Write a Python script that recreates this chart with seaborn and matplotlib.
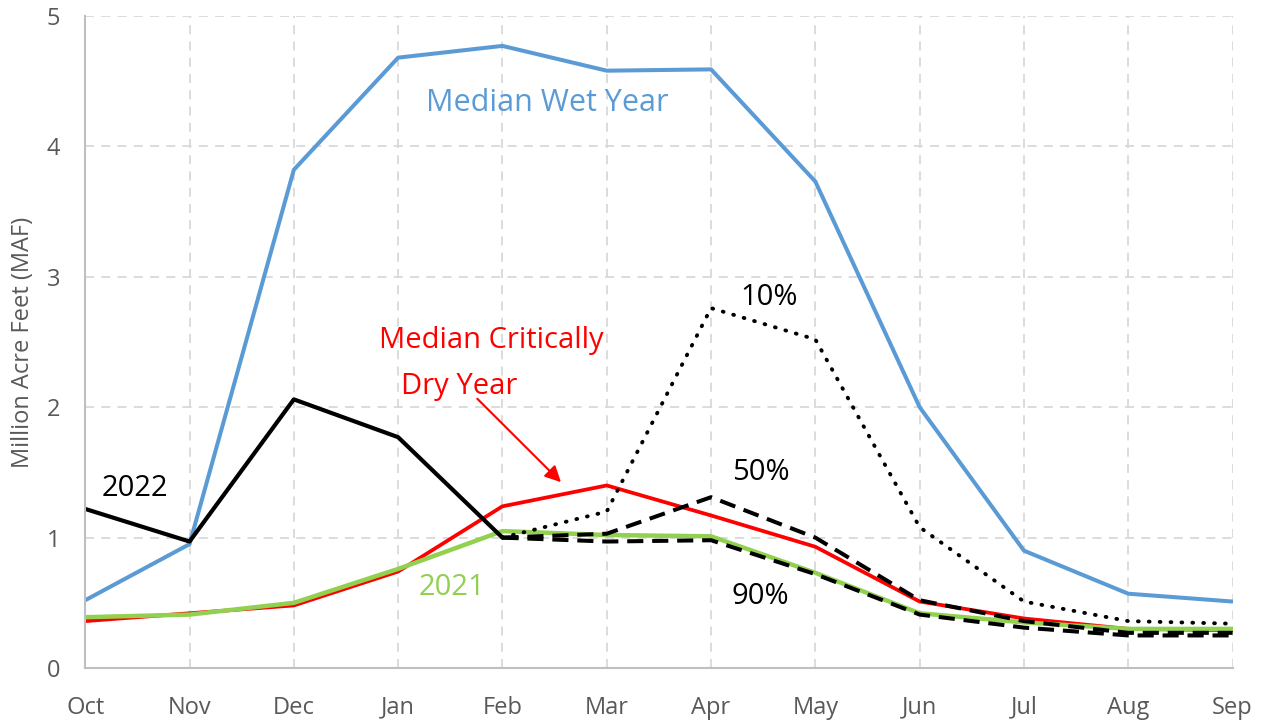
import numpy as np
import pandas as pd
import seaborn as sns
import matplotlib.pyplot as plt

# Data (million acre feet)
months = ["Oct", "Nov", "Dec", "Jan", "Feb", "Mar", "Apr", "May", "Jun", "Jul", "Aug", "Sep"]
wet_year = [0.52, 0.95, 3.82, 4.68, 4.77, 4.58, 4.59, 3.73, 2.00, 0.90, 0.57, 0.51]
dry_year = [0.36, 0.42, 0.48, 0.74, 1.24, 1.40, 1.17, 0.93, 0.51, 0.38, 0.30, 0.29]
wy_2021 = [0.39, 0.41, 0.50, 0.76, 1.05, 1.02, 1.01, 0.73, 0.42, 0.35, 0.30, 0.30]
wy_2022 = [1.22, 0.97, 2.06, 1.77, 1.00]
p10 = [1.00, 1.20, 2.76, 2.52, 1.08, 0.51, 0.36, 0.34]
p50 = [1.00, 1.03, 1.31, 1.00, 0.52, 0.36, 0.27, 0.27]
p90 = [1.00, 0.97, 0.98, 0.72, 0.41, 0.31, 0.25, 0.25]

sns.set_style("white")
plt.rcParams['font.family'] = ['Open Sans', 'DejaVu Sans']

fig = plt.figure(figsize=(12.72, 7.23), dpi=100)
ax = fig.add_axes([0.067, 0.076, 0.902, 0.902])

x_all = np.arange(len(months))
x_fc = np.arange(4, len(months))  # forecasts start in Feb

sns.lineplot(x=x_all, y=wet_year, ax=ax, color="#5b9bd5", lw=2.9)
sns.lineplot(x=x_all, y=dry_year, ax=ax, color="#ff0000", lw=2.7)
sns.lineplot(x=x_all, y=wy_2021, ax=ax, color="#92d050", lw=3.2)
sns.lineplot(x=x_fc, y=p10, ax=ax, color="black", lw=2.8,
             linestyle=(0, (0.2, 2.6)), dash_capstyle="round")
sns.lineplot(x=x_fc, y=p50, ax=ax, color="black", lw=2.9, linestyle=(0, (4, 2.2)))
sns.lineplot(x=x_fc, y=p90, ax=ax, color="black", lw=2.9, linestyle=(0, (4, 2.2)))
sns.lineplot(x=np.arange(len(wy_2022)), y=wy_2022, ax=ax, color="black", lw=3.0)

ax.set_xlim(0, len(months) - 1)
ax.set_ylim(0, 5)
ax.set_xticks(x_all)
ax.set_xticklabels(months)
ax.set_yticks([0, 1, 2, 3, 4, 5])
ax.set_yticks(np.arange(0.5, 5, 1), minor=True)

grid_kw = dict(color="#d9d9d9", linestyle=(0, (5, 4)), lw=1.3)
ax.grid(True, which="major", axis="both", **grid_kw)
ax.set_axisbelow(True)

for side in ["top", "right"]:
    ax.spines[side].set_visible(False)
for side in ["left", "bottom"]:
    ax.spines[side].set_color("#bfbfbf")
    ax.spines[side].set_linewidth(1.5)

ax.tick_params(axis="y", which="both", direction="inout", length=8, width=1.5,
               color="#bfbfbf", labelcolor="#595959", labelsize=17, pad=14)
ax.tick_params(axis="x", length=0, labelcolor="#595959", labelsize=17, pad=20)
ax.set_ylabel("Million Acre Feet (MAF)", color="#595959", fontsize=17, labelpad=8)
ax.set_xlabel("")

# Annotations
ax.text(4.43, 4.33, "Median Wet Year", color="#5b9bd5", fontsize=22, ha="center", va="center")
ax.text(6.56, 2.84, "10%", color="black", fontsize=21, ha="center", va="center")
ax.text(3.89, 2.51, "Median Critically", color="#ff0000", fontsize=21, ha="center", va="center")
ax.text(3.59, 2.16, "Dry Year", color="#ff0000", fontsize=21, ha="center", va="center")
ax.annotate("", xy=(4.58, 1.41), xytext=(3.74, 2.08),
            arrowprops=dict(arrowstyle="-|>", color="#ff0000", lw=1.5, mutation_scale=24))
ax.text(0.48, 1.38, "2022", color="black", fontsize=21, ha="center", va="center")
ax.text(6.48, 1.50, "50%", color="black", fontsize=21, ha="center", va="center")
ax.text(6.47, 0.55, "90%", color="black", fontsize=21, ha="center", va="center")
ax.text(3.52, 0.62, "2021", color="#92d050", fontsize=21, ha="center", va="center")

fig.savefig("out.png", dpi=100)
